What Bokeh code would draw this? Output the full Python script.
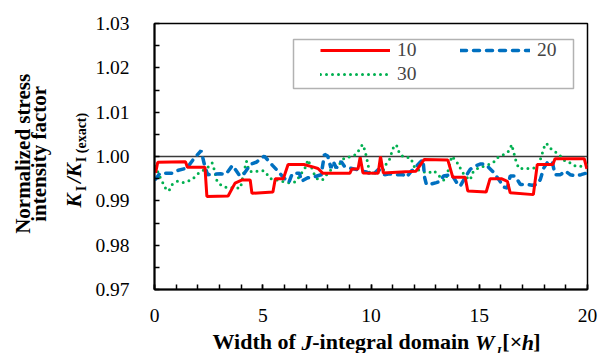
from bokeh.plotting import figure
from bokeh.models import (Range1d, FixedTicker, SingleIntervalTicker, NumeralTickFormatter,
                          Span, Legend, LegendItem, BoxAnnotation, LinearAxis)
from bokeh.embed import file_html
from bokeh.resources import INLINE

# ---------------- data ----------------
x10 = [0.05, 0.15, 1.43, 1.52, 2.33, 2.42, 3.40, 3.72, 4.05, 4.42, 4.50, 5.47, 5.58, 5.95,
       6.17, 6.90, 7.35, 7.55, 7.78, 9.02, 9.12, 9.40, 9.50, 9.63, 10.33, 10.44, 10.57,
       11.80, 12.08, 12.45, 13.55, 13.78, 14.35, 14.47, 15.32, 15.50, 16.02, 16.30, 16.43,
       17.50, 17.68, 18.40, 18.50, 19.85, 19.97]
y10 = [0.9963, 0.9987, 0.9988, 0.9976, 0.9976, 0.9910, 0.9911, 0.9940, 0.9947, 0.9947,
       0.9917, 0.9920, 0.9950, 0.9950, 0.9982, 0.9982, 0.9976, 0.9973, 0.9962, 0.9962,
       0.9972, 0.9972, 0.9998, 0.9963, 0.9962, 1.0000, 0.9963, 0.9966, 0.9967, 0.9993,
       0.9992, 0.9953, 0.9953, 0.9922, 0.9920, 0.9950, 0.9950, 0.9944, 0.9918, 0.9914,
       0.9982, 0.9982, 0.9995, 0.9995, 0.9972]

x20 = [0.05, 0.25, 0.80, 1.10, 1.50, 1.80, 2.15, 2.30, 2.45, 3.05, 3.30, 3.60, 3.90, 4.06,
       4.45, 4.70, 5.07, 5.45, 5.70, 5.95, 6.20, 6.37, 6.70, 6.78, 7.08, 7.30, 7.70, 7.85,
       8.00, 8.15, 8.25, 8.40, 8.62, 8.77, 9.00, 9.30, 9.60, 9.80, 10.10, 10.35, 10.63,
       10.86, 11.17, 11.48, 11.63, 11.86, 12.02, 12.25, 12.40, 12.48, 12.56, 12.79, 13.02,
       13.20, 13.35, 13.73, 13.96, 14.12, 14.35, 14.58, 14.80, 15.04, 15.27, 15.42, 15.65,
       15.96, 16.12, 16.30, 16.43, 16.65, 16.90, 17.20, 17.44, 17.67, 17.82, 17.98, 18.14,
       18.37, 18.50, 18.75, 18.98, 19.20, 19.45, 19.70, 19.98]
y20 = [0.9949, 0.9962, 0.9962, 0.9969, 0.9974, 0.9994, 1.0013, 0.9983, 0.9959, 0.9961,
       0.9960, 0.9980, 0.9959, 0.9956, 0.9983, 0.9987, 1.0001, 0.9980, 0.9967, 0.9953,
       0.9941, 0.9962, 0.9962, 0.9944, 0.9952, 0.9953, 0.9959, 1.0005, 1.0001, 0.9974,
       0.9989, 0.9974, 0.9989, 0.9978, 0.9974, 0.9971, 0.9967, 0.9965, 0.9959, 0.9971,
       0.9959, 0.9961, 0.9959, 0.9959, 0.9953, 0.9967, 0.9974, 0.9986, 0.9993, 0.9952,
       0.9937, 0.9938, 0.9941, 0.9944, 0.9956, 0.9959, 0.9941, 0.9933, 0.9953, 0.9971,
       0.9978, 0.9983, 0.9983, 0.9976, 0.9965, 0.9944, 0.9931, 0.9929, 0.9956, 0.9956,
       0.9937, 0.9937, 0.9935, 0.9937, 0.9948, 0.9974, 0.9986, 0.9989, 0.9959, 0.9959,
       0.9967, 0.9959, 0.9956, 0.9959, 0.9963]

x30 = [0.05, 0.20, 0.50, 0.66, 0.82, 1.05, 1.28, 1.50, 1.74, 1.90, 2.05, 2.43, 2.66, 2.74,
       2.89, 3.12, 3.35, 3.66, 3.97, 4.12, 4.25, 4.37, 4.60, 4.83, 5.06, 5.37, 5.68, 5.90,
       6.14, 6.40, 6.54, 6.85, 7.00, 7.08, 7.23, 7.39, 7.55, 7.77, 8.00, 8.23, 8.46, 8.77,
       8.93, 9.16, 9.32, 9.55, 9.62, 9.70, 9.78, 9.87, 9.95, 10.25, 10.55, 10.70, 10.86,
       11.02, 11.17, 11.25, 11.33, 11.56, 11.79, 11.94, 12.02, 12.30, 12.66, 12.88, 13.10,
       13.27, 13.45, 13.73, 13.88, 14.04, 14.19, 14.35, 14.58, 14.73, 14.96, 15.20, 15.45,
       15.65, 15.80, 15.96, 16.12, 16.27, 16.40, 16.50, 16.60, 16.70, 16.83, 17.10, 17.35,
       17.52, 17.75, 17.90, 17.98, 18.10, 18.37, 18.60, 18.83, 18.98, 19.20, 19.45, 19.68,
       19.98]
y30 = [0.9978, 0.9959, 0.9929, 0.9922, 0.9937, 0.9944, 0.9941, 0.9944, 0.9948, 0.9956,
       0.9963, 0.9974, 0.9986, 0.9974, 0.9944, 0.9933, 0.9930, 0.9929, 0.9929, 0.9963,
       0.9989, 0.9967, 0.9965, 0.9968, 0.9968, 0.9950, 0.9947, 0.9944, 0.9941, 0.9941,
       0.9944, 0.9967, 0.9978, 0.9993, 0.9978, 0.9959, 0.9948, 0.9948, 0.9962, 0.9974,
       0.9978, 0.9997, 0.9998, 1.0001, 1.0005, 1.0023, 1.0027, 1.0016, 1.0001, 0.9980,
       0.9959, 0.9967, 0.9967, 0.9983, 0.9994, 1.0019, 1.0027, 1.0016, 1.0005, 0.9998,
       0.9998, 0.9986, 0.9974, 0.9967, 0.9963, 0.9968, 0.9960, 0.9948, 0.9946, 1.0001,
       0.9993, 0.9982, 0.9967, 0.9956, 0.9947, 0.9967, 0.9974, 0.9978, 0.9982, 0.9986,
       0.9996, 1.0001, 1.0004, 1.0008, 1.0014, 1.0027, 1.0008, 0.9989, 0.9973, 0.9973,
       0.9973, 0.9974, 0.9982, 1.0005, 1.0019, 1.0030, 1.0014, 1.0008, 0.9997, 0.9989,
       0.9986, 0.9978, 0.9978, 0.9982]

series_names = ["10", "20", "30"]
y_ticks = [0.97, 0.98, 0.99, 1.00, 1.01, 1.02, 1.03]
y_minor = [0.975, 0.985, 0.995, 1.005, 1.015, 1.025]
reference_level = 1.00

SERIF = "Liberation Serif"
NB = "\u00a0"
FL, FR, FT, FB = 154, 11, 23, 64          # borders around the plot frame
FW, FH = 433, 266                          # plot frame size
X0, X1, Y0, Y1 = 0, 20, 0.97, 1.03

def px_to_x(px):
    return round(X0 + (px - FL) / FW * (X1 - X0), 3)

def py_to_y(py):
    return round(Y1 - (py - FT) / FH * (Y1 - Y0), 5)

# ---------------- main figure ----------------
p = figure(frame_width=FW, frame_height=FH,
           min_border_left=FL, min_border_right=FR, min_border_top=FT, min_border_bottom=FB,
           x_range=Range1d(X0, X1), y_range=Range1d(Y0, Y1),
           output_backend="svg", toolbar_location=None, title=None)
p.background_fill_color = "white"
p.border_fill_color = "white"
p.outline_line_color = "black"
p.outline_line_width = 1.5
p.xgrid.visible = False
p.ygrid.visible = False

xa = p.xaxis[0]
xa.ticker = SingleIntervalTicker(interval=5, num_minor_ticks=5)
ya = p.yaxis[0]
ya.ticker = FixedTicker(ticks=y_ticks, minor_ticks=y_minor)
ya.formatter = NumeralTickFormatter(format="0.00")
for ax in (xa, ya):
    ax.axis_line_color = "black"
    ax.axis_line_width = 2
    ax.major_tick_in = 5
    ax.major_tick_out = 0
    ax.minor_tick_in = 5
    ax.minor_tick_out = 0
    ax.major_tick_line_color = "black"
    ax.minor_tick_line_color = "black"
    ax.major_tick_line_width = 1.5
    ax.minor_tick_line_width = 1.5
    ax.major_label_text_font = SERIF
    ax.major_label_text_font_size = "19.5px"
    ax.major_label_text_color = "black"
xa.major_label_standoff = 19
ya.major_label_standoff = 25

def text_axis(place, label="", label_style="bold", label_size="21px", label_standoff=0,
              tick_pos=(), tick_text=(), tick_style="bold", tick_size="14px",
              tick_standoff=0, orientation="horizontal"):
    ticks = list(tick_pos)
    overrides = {}
    for t, s in zip(ticks, tick_text):
        overrides[t] = s
        overrides[str(t)] = s
    ax = LinearAxis(ticker=FixedTicker(ticks=ticks, minor_ticks=[]),
                    major_label_overrides=overrides,
                    axis_label=label if label else None,
                    axis_line_color=None, major_tick_line_color=None,
                    minor_tick_line_color=None,
                    major_tick_in=0, major_tick_out=0, minor_tick_in=0, minor_tick_out=0,
                    major_label_standoff=tick_standoff,
                    major_label_orientation=orientation,
                    major_label_text_font=SERIF, major_label_text_font_size=tick_size,
                    major_label_text_font_style=tick_style, major_label_text_color="black",
                    axis_label_text_font=SERIF, axis_label_text_font_size=label_size,
                    axis_label_text_font_style=label_style, axis_label_text_color="black",
                    axis_label_standoff=label_standoff)
    p.add_layout(ax, place)
    return ax

# y title, line 3:  K_I / K_I (exact)   (subscripts are tick labels of the same axis)
text_axis("left", label="K" + NB * 2 + "/K" + NB * 11, label_style="bold italic",
          label_size="21px", label_standoff=-14,
          tick_pos=[py_to_y(188), py_to_y(137)], tick_text=["I", "I (exact)"],
          tick_style="bold", tick_size="14px", tick_standoff=3, orientation="parallel")
# y title, lines 2 and 1
text_axis("left", label=NB + "intensity factor", label_standoff=8)
text_axis("left", label=NB + "Normalized stress", label_standoff=-11)

# x title: bold text with gaps, bold-italic pieces as tick labels on the same row
x_title = (NB * 2 + "Width" + NB + "of" + NB + NB * 2 + "-integral" + NB + "domain" + NB
           + NB * 5 + "[\u00d7" + NB * 2 + "]")
text_axis("below", label=x_title, label_size="22px", label_standoff=-29,
          tick_pos=[px_to_x(306.5), px_to_x(484.4), px_to_x(527.4)],
          tick_text=["J", "W", "h"], tick_style="bold italic", tick_size="22px",
          tick_standoff=5)
text_axis("below", tick_pos=[px_to_x(497.7)], tick_text=["J"], tick_style="bold italic",
          tick_size="13px", tick_standoff=-14)

p.add_layout(Span(location=reference_level, dimension="width", line_color="#3a3a3a",
                  line_width=1.3, level="underlay"))

r30 = p.line(x30, y30, line_color="#00B050", line_width=3, line_dash="0 6", line_cap="round")
r20 = p.line(x20, y20, line_color="#0070C0", line_width=3.5, line_dash="6 7", line_cap="round")
r10 = p.line(x10, y10, line_color="#FF0000", line_width=3)

# legend box
p.add_layout(BoxAnnotation(left=139, right=419, bottom=201, top=250,
                           left_units="screen", right_units="screen",
                           bottom_units="screen", top_units="screen",
                           fill_color="white", fill_alpha=1.0,
                           line_color="black", line_width=1.5))

def make_legend(items, loc):
    return Legend(items=items, location=loc, padding=0, margin=0, spacing=2,
                  glyph_width=70, glyph_height=20, label_height=20, label_standoff=7,
                  label_text_font=SERIF, label_text_font_size="19.5px",
                  border_line_alpha=0, background_fill_alpha=0)

p.add_layout(make_legend([LegendItem(label=series_names[0], renderers=[r10]),
                          LegendItem(label=series_names[2], renderers=[r30])], (166, 204)))
p.add_layout(make_legend([LegendItem(label=series_names[1], renderers=[r20])], (306, 228)))

open("out.html", "w").write(file_html(p, INLINE))
